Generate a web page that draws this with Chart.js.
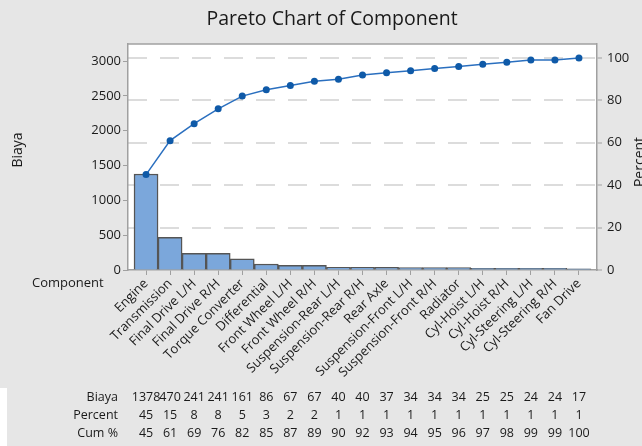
<!DOCTYPE html>
<html><head><meta charset="utf-8">
<script src="https://cdn.jsdelivr.net/npm/chart.js@4.4.1/dist/chart.umd.min.js"></script>
<style>html,body{margin:0;padding:0;background:#e6e6e6;}</style>
</head><body>
<canvas id="c" width="642" height="446"></canvas>
<script>
const components = ["Engine","Transmission","Final Drive L/H","Final Drive R/H","Torque Converter","Differential","Front Wheel L/H","Front Wheel R/H","Suspension-Rear L/H","Suspension-Rear R/H","Rear Axle","Suspension-Front L/H","Suspension-Front R/H","Radiator","Cyl-Hoist L/H","Cyl-Hoist R/H","Cyl-Steering L/H","Cyl-Steering R/H","Fan Drive"];
const biaya = [1378,470,241,241,161,86,67,67,40,40,37,34,34,34,25,25,24,24,17];
const percent = [45,15,8,8,5,3,2,2,1,1,1,1,1,1,1,1,1,1,1];
const cumPercent = [45,61,69,76,82,85,87,89,90,92,93,94,95,96,97,98,99,99,100];
const leftTicks = [0,500,1000,1500,2000,2500,3000];
const rightTicks = [0,20,40,60,80,100];

const FONT = "'Open Sans', 'Noto Sans', sans-serif";
const TXT = '#1a1a1a';
const total = biaya.reduce((a,b)=>a+b,0);
const leftMax = 3245;
const rightMax = leftMax / total * 100;

const decor = {
  id: 'decor',
  beforeDraw(chart) {
    const {ctx, chartArea: a} = chart;
    ctx.save();
    ctx.fillStyle = '#e6e6e6';
    ctx.fillRect(0, 0, chart.width, chart.height);
    ctx.fillStyle = '#ffffff';
    ctx.fillRect(0, 388, 7, 58);
    ctx.fillRect(a.left, a.top, a.right - a.left, a.bottom - a.top);
    ctx.restore();
  },
  afterDraw(chart) {
    const {ctx, chartArea: a, scales} = chart;
    ctx.save();
    ctx.strokeStyle = '#a0a0a0';
    ctx.lineWidth = 1.5;
    ctx.beginPath();
    ctx.moveTo(a.left, a.top); ctx.lineTo(a.right, a.top);
    ctx.stroke();
    ctx.fillStyle = TXT;
    ctx.font = "19.5px " + FONT;
    ctx.textAlign = 'center'; ctx.textBaseline = 'middle';
    ctx.fillText('Pareto Chart of Component', 332, 19);
    ctx.font = "14px " + FONT;
    ctx.save();
    ctx.translate(18, 150); ctx.rotate(-Math.PI/2);
    ctx.textAlign = 'center'; ctx.textBaseline = 'middle';
    ctx.fillText('Biaya', 0, 0);
    ctx.restore();
    ctx.save();
    ctx.translate(644, 162); ctx.rotate(-Math.PI/2);
    ctx.textAlign = 'center'; ctx.textBaseline = 'alphabetic';
    ctx.fillText('Percent', 0, 0);
    ctx.restore();
    ctx.font = "13px " + FONT;
    ctx.textAlign = 'left'; ctx.textBaseline = 'middle';
    ctx.fillText('Component', 32, 283);
    ctx.font = "12.5px " + FONT;
    const rows = [['Biaya', biaya, 397], ['Percent', percent, 415], ['Cum %', cumPercent, 433]];
    rows.forEach(([label, vals, y]) => {
      ctx.textAlign = 'right';
      ctx.fillText(label, 118, y);
      ctx.textAlign = 'center';
      vals.forEach((v, i) => ctx.fillText(String(v), scales.x.getPixelForValue(i), y));
    });
    ctx.restore();
  }
};

new Chart(document.getElementById('c'), {
  data: {
    datasets: [
      {
        type: 'line',
        yAxisID: 'y2',
        data: cumPercent.map((v, i) => ({x: i, y: v})),
        borderColor: '#2a6fbf',
        backgroundColor: '#0f5aa8',
        borderWidth: 1.5,
        pointRadius: 3.5,
        pointHoverRadius: 3.5,
        pointBackgroundColor: '#0f5aa8',
        pointBorderWidth: 0,
        tension: 0,
        order: 0
      },
      {
        type: 'bar',
        yAxisID: 'y',
        data: biaya.map((v, i) => ({x: i, y: v})),
        backgroundColor: '#7ba7db',
        borderColor: '#555555',
        borderWidth: 1.5,
        categoryPercentage: 1,
        barPercentage: 1,
        order: 1
      }
    ]
  },
  options: {
    responsive: false,
    animation: false,
    events: [],
    layout: {padding: {left: 0, right: 0, top: 44, bottom: 66}},
    plugins: {legend: {display: false}, tooltip: {enabled: false}, title: {display: false}},
    scales: {
      x: {
        type: 'linear',
        position: 'bottom',
        offset: false,
        min: -0.75, max: 18.75,
        afterBuildTicks: s => { s.ticks = components.map((c, i) => ({value: i})); },
        afterFit: s => { s.height = 110; },
        ticks: {
          autoSkip: false, maxRotation: 45, minRotation: 45,
          color: TXT, font: {family: FONT, size: 13}, padding: 1,
          callback: v => components[v]
        },
        grid: {offset: false, drawOnChartArea: false, drawTicks: true, tickLength: 5, tickColor: '#a0a0a0', tickWidth: 1},
        border: {display: true, color: '#a0a0a0', width: 1.5}
      },
      y: {
        type: 'linear', position: 'left',
        min: 0, max: leftMax,
        afterBuildTicks: s => { s.ticks = leftTicks.map(v => ({value: v})); },
        afterFit: s => { s.width = 128; },
        ticks: {color: TXT, font: {family: FONT, size: 13}, padding: 2, callback: v => String(v)},
        grid: {drawOnChartArea: false, drawTicks: true, tickLength: 5, tickColor: '#a0a0a0', tickWidth: 1},
        border: {display: true, color: '#a0a0a0', width: 1.5}
      },
      y2: {
        type: 'linear', position: 'right',
        min: 0, max: rightMax,
        afterBuildTicks: s => { s.ticks = rightTicks.map(v => ({value: v})); },
        afterFit: s => { s.width = 45; },
        ticks: {color: TXT, font: {family: FONT, size: 13}, padding: 5, callback: v => String(v)},
        grid: {
          drawOnChartArea: true, drawTicks: true, tickLength: 5,
          color: c => (c.tick && c.tick.value === 0) ? 'rgba(0,0,0,0)' : '#dcdcdc',
          lineWidth: 2,
          tickColor: '#a0a0a0', tickWidth: 1, tickBorderDash: []
        },
        border: {display: true, color: '#a0a0a0', width: 1.5, dash: [19, 13]}
      }
    }
  },
  plugins: [decor]
});
</script>
</body></html>
